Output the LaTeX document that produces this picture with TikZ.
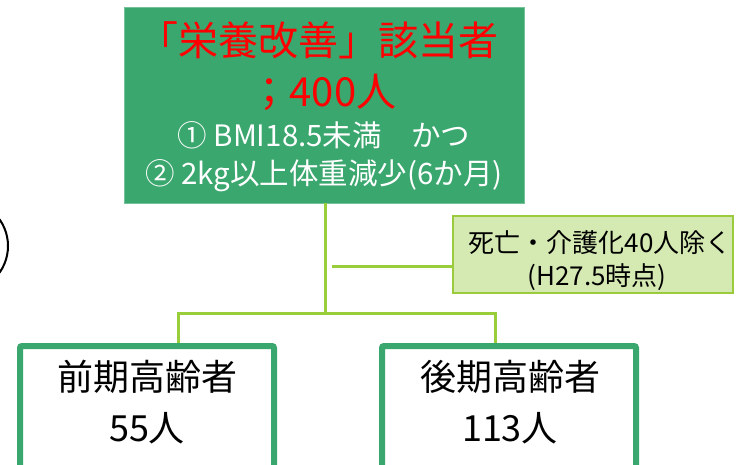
\documentclass[tikz,border=0pt]{standalone}
\usepackage{fontspec}
\setmainfont{Noto Sans CJK JP}
\definecolor{boxgreen}{HTML}{3AA76E}
\definecolor{lime}{HTML}{9ACD3A}
\definecolor{notefill}{HTML}{D5EAB2}
\definecolor{notedraw}{HTML}{9BCB3C}
\tikzset{
  topbox/.style={fill=boxgreen, draw=boxgreen!70!white, line width=0.8pt, minimum width=400pt, minimum height=196pt, inner sep=0pt},
  agebox/.style={draw=boxgreen, line width=6pt, fill=white, rounded corners=2pt, minimum width=254pt, minimum height=140pt, inner sep=0pt},
  notebox/.style={fill=notefill, draw=notedraw, line width=2.5pt, minimum width=280pt, minimum height=77pt, inner sep=0pt},
  conn/.style={draw=lime, line width=3pt},
  redtxt/.style={anchor=base, text=red, font=\fontsize{40}{40}\selectfont, inner sep=0pt},
  whitetxt/.style={anchor=base, text=white, font=\fontsize{29.5}{29.5}\selectfont, inner sep=0pt},
  blacktxt/.style={anchor=base, text=black, font=\fontsize{36}{36}\selectfont, inner sep=0pt},
  notetxt/.style={anchor=base, text=black, font=\fontsize{26}{26}\selectfont, inner sep=0pt}
}
\begin{document}
\begin{tikzpicture}[x=1pt,y=-1pt]
\useasboundingbox (0,0) rectangle (747,465);
\begin{scope}
\clip (0,0) rectangle (747,465);
% partial circle at left edge
\draw[line width=2pt] (-38,246) circle (46pt);
% top box
\node[topbox] (top) at (324,105) {};
\node[redtxt] (t1) at (318,56) {「栄養改善」該当者};
\node[redtxt] (t2) at (323,107) {；400人};
\node[whitetxt] (t3) at (324,147) {① BMI18.5未満　かつ};
\node[whitetxt] (t4) at (324,185) {② 2kg以上体重減少(6か月)};
% bottom boxes
\node[agebox] (left) at (147,416) {};
\node[agebox] (right) at (509,416) {};
\node[blacktxt] (l1) at (147,390) {前期高齢者};
\node[blacktxt] (l2) at (147,441) {55人};
\node[blacktxt] (r1) at (510,390) {後期高齢者};
\node[blacktxt] (r2) at (510,441) {113人};
% note box
\node[notebox] (note) at (593,254.5) {};
\node[notetxt] (n1) at (600,252) {死亡・介護化40人除く};
\node[notetxt] (n2) at (597,285) {(H27.5時点)};
% connectors
\coordinate (j) at (325,313);
\coordinate (s) at (332,266);
\draw[conn] (top.south -| j) -- (j);
\draw[conn] (j) -| ([xshift=31pt]left.north);
\draw[conn] (j) -| ([xshift=-14pt]right.north);
\draw[conn] (s) -- (s -| note.west);
\end{scope}
\end{tikzpicture}
\end{document}
